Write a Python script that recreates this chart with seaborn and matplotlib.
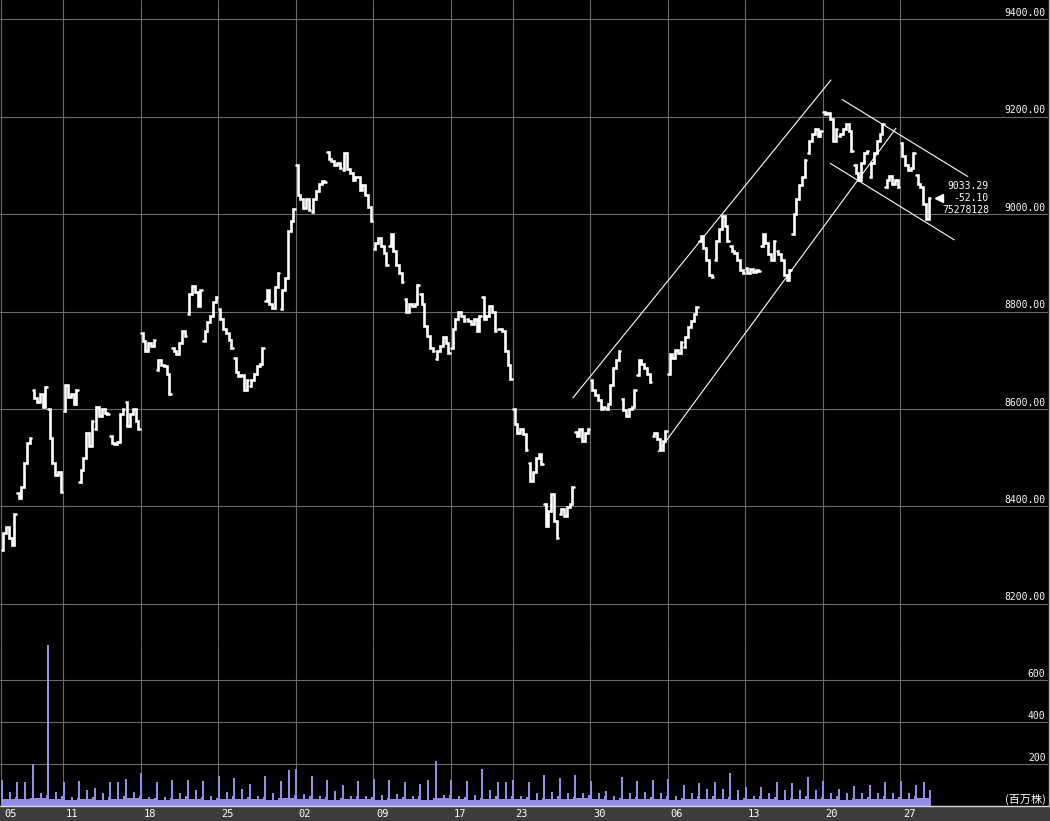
import matplotlib
matplotlib.use("Agg")
import numpy as np
import pandas as pd
import seaborn as sns
import matplotlib.pyplot as plt
from matplotlib.transforms import blended_transform_factory, offset_copy
from matplotlib.patches import Rectangle
from matplotlib.lines import Line2D

sns.set_theme(style="dark")
plt.rcParams['font.family'] = ['DejaVu Sans Mono', 'Noto Sans CJK JP']

# ---------------- data ----------------
# intraday price, 6 readings per trading day (60 days)
price = [
    8310, 8345, 8358, 8335, 8322, 8385,
    8428, 8418, 8440, 8490, 8530, 8540,
    8640, 8622, 8615, 8630, 8605, 8645,
    8600, 8540, 8490, 8465, 8470, 8430,
    8595, 8650, 8625, 8630, 8610, 8640,
    8450, 8475, 8500, 8550, 8525, 8575,
    8560, 8605, 8585, 8600, 8592, 8590,
    8545, 8530, 8528, 8532, 8590, 8600,
    8615, 8565, 8590, 8600, 8575, 8560,
    8755, 8740, 8720, 8735, 8730, 8742,
    8680, 8700, 8690, 8688, 8672, 8630,
    8725, 8720, 8712, 8735, 8760, 8750,
    8795, 8835, 8852, 8840, 8812, 8845,
    8740, 8760, 8778, 8790, 8820, 8830,
    8805, 8785, 8765, 8755, 8742, 8725,
    8705, 8675, 8668, 8670, 8640, 8660,
    8648, 8660, 8672, 8688, 8692, 8725,
    8822, 8845, 8815, 8808, 8850, 8878,
    8805, 8845, 8868, 8965, 8985, 9010,
    9100, 9040, 9030, 9012, 9030, 9008,
    9005, 9030, 9048, 9062, 9068, 9065,
    9128, 9112, 9108, 9100, 9105, 9095,
    9090, 9125, 9092, 9085, 9070, 9075,
    9075, 9050, 9060, 9040, 9015, 8985,
    8928, 8940, 8950, 8935, 8920, 8895,
    8935, 8960, 8925, 8895, 8880, 8860,
    8825, 8800, 8815, 8812, 8815, 8855,
    8835, 8815, 8770, 8750, 8725, 8718,
    8702, 8718, 8730, 8748, 8735, 8715,
    8725, 8765, 8785, 8800, 8790, 8780,
    8785, 8780, 8775, 8785, 8760, 8790,
    8830, 8785, 8790, 8812, 8800, 8760,
    8765, 8765, 8760, 8720, 8690, 8662,
    8600, 8570, 8550, 8558, 8548, 8515,
    8490, 8452, 8470, 8500, 8508, 8488,
    8405, 8360, 8390, 8425, 8370, 8335,
    8385, 8395, 8380, 8398, 8405, 8440,
    8552, 8545, 8558, 8535, 8550, 8560,
    8660, 8640, 8628, 8618, 8600, 8605,
    8600, 8610, 8650, 8685, 8700, 8720,
    8620, 8598, 8585, 8600, 8605, 8640,
    8670, 8700, 8692, 8685, 8672, 8655,
    8545, 8550, 8538, 8515, 8535, 8555,
    8672, 8712, 8705, 8722, 8715, 8738,
    8728, 8748, 8768, 8780, 8795, 8810,
    8945, 8955, 8930, 8905, 8875, 8870,
    8905, 8945, 8970, 8995, 8975, 8945,
    8935, 8925, 8920, 8905, 8885, 8880,
    8890, 8880, 8888, 8882, 8886, 8884,
    8935, 8960, 8940, 8918, 8905, 8945,
    8925, 8918, 8905, 8875, 8865, 8885,
    8960, 9000, 9030, 9060, 9075, 9110,
    9125, 9150, 9165, 9175, 9160, 9170,
    9210, 9205, 9208, 9195, 9150, 9175,
    9160, 9165, 9175, 9185, 9170, 9130,
    9100, 9085, 9070, 9105, 9125, 9130,
    9075, 9105, 9125, 9150, 9165, 9185,
    9055, 9070, 9078, 9062, 9070, 9055,
    9145, 9120, 9100, 9090, 9095, 9125,
    9080, 9062, 9055, 9020, 8990, 9033.29,
]

# volume (million shares): morning-open spike, afternoon-open spike, base levels per day
vol_am = [124, 116, 198, 767, 112, 121, 87, 112, 127, 159,
          116, 124, 124, 120, 143, 135, 105, 143, 120, 178,
          143, 124, 100, 121, 127, 124, 116, 105, 212, 124,
          121, 175, 112, 124, 116, 147, 132, 147, 121, 72,
          140, 121, 124, 127, 100, 108, 112, 156, 92, 92,
          112, 108, 140, 121, 80, 96, 100, 112, 121, 100]
vol_pm = [68, 112, 63, 68, 45, 76, 60, 116, 68, 45,
          45, 60, 76, 50, 68, 80, 50, 60, 171, 55,
          50, 72, 50, 50, 52, 56, 50, 124, 52, 48,
          52, 76, 112, 50, 60, 68, 60, 60, 60, 50,
          60, 68, 60, 50, 60, 80, 80, 76, 50, 64,
          76, 76, 76, 60, 60, 60, 64, 60, 64, 116]
vol_base = [34, 31, 36, 33, 28, 32, 30, 34, 36, 31,
            28, 33, 32, 30, 35, 33, 31, 29, 36, 34,
            32, 30, 33, 31, 28, 32, 34, 30, 36, 31,
            29, 33, 35, 32, 30, 34, 31, 36, 33, 29,
            32, 31, 34, 30, 33, 35, 32, 30, 34, 31,
            29, 33, 32, 35, 30, 31, 34, 32, 33, 36]
vol_close = [45, 40, 52, 48, 38, 44, 42, 50, 46, 40,
             38, 47, 44, 40, 50, 45, 42, 39, 52, 48,
             44, 40, 46, 42, 38, 44, 48, 40, 52, 42,
             40, 46, 50, 44, 40, 48, 42, 52, 46, 40,
             44, 42, 48, 40, 46, 50, 44, 40, 48, 42,
             40, 46, 44, 50, 40, 42, 48, 44, 46, 76]

tick_days = [0, 4, 9, 14, 19, 24, 29, 33, 38, 43, 48, 53, 58]
tick_labels = ['05', '11', '18', '25', '02', '09', '17', '23', '30', '06', '13', '20', '27']
price_ticks = [8200, 8400, 8600, 8800, 9000, 9200, 9400]
vol_ticks = [200, 400, 600]

# hand-drawn trend channels (day, price)
up_top_x, up_top_y = [36.9, 53.55], [8623, 9275]
up_bot_x, up_bot_y = [42.39, 57.74], [8512, 9176]
dn_top_x, dn_top_y = [54.26, 62.37], [9235, 9077]
dn_bot_x, dn_bot_y = [53.50, 61.50], [9104, 8947]

last_price = 9033.29
last_change = -52.10
last_volume = 75278128

# ---------------- layout ----------------
W, H = 1050, 821
PX_DAY = 15.5
P_PER_PX = 200 / 97.5
V_PER_PX = 200 / 42.0

fig = plt.figure(figsize=(W / 100, H / 100), dpi=100, facecolor='black')
x0 = -1 / PX_DAY
x1 = x0 + 1048 / PX_DAY

ax_p = fig.add_axes([0, (H - 640) / H, 1048 / W, 640 / H])
ax_v = fig.add_axes([0, (H - 806) / H, 1048 / W, 166 / H])

grid_col = '#6a6a6a'
for ax in (ax_p, ax_v):
    ax.set_facecolor('black')
    for s in ax.spines.values():
        s.set_visible(False)
    ax.set_axisbelow(True)

# price line, one segment per trading day, spanning the whole day slot
n_per = 6
n_days = len(price) // n_per
days = np.repeat(np.arange(n_days), n_per)
pos = np.tile(0.04 + np.arange(n_per) / (n_per - 1) * 0.92, n_days)
df = pd.DataFrame({'x': days + pos, 'price': price, 'day': days})
sns.lineplot(data=df, x='x', y='price', units='day', estimator=None, sort=False,
             color='white', linewidth=1.9, ax=ax_p, legend=False,
             drawstyle='steps-mid', solid_joinstyle='miter')

for xs, ys in [(up_top_x, up_top_y), (up_bot_x, up_bot_y),
               (dn_top_x, dn_top_y), (dn_bot_x, dn_bot_y)]:
    ax_p.plot(xs, ys, color='white', lw=0.8)

# volume bars, 8 slots per day
vx, vv = [], []
for d in range(len(vol_am)):
    slots = [vol_am[d], vol_base[d], vol_base[d], vol_base[d],
             vol_pm[d], vol_base[d], vol_base[d], vol_close[d]]
    for k, v in enumerate(slots):
        vx.append(d + (k + 0.5) / 8)
        vv.append(v)
ax_v.bar(vx, vv, width=0.126, color='#8f8fe8', linewidth=0)

for ax in (ax_p, ax_v):
    ax.set_xlim(x0, x1)
    ax.set_xticks(tick_days)
    ax.tick_params(length=0, labelbottom=False, labelleft=False)
    ax.grid(True, color=grid_col, lw=0.8)
    ax.set_xlabel('')
    ax.set_ylabel('')

ax_p.set_yticks(price_ticks)
ax_p.set_ylim(9400 - 621 * P_PER_PX, 9400 + 19 * P_PER_PX)
ax_v.set_yticks(vol_ticks)
ax_v.set_ylim(0, 166 * V_PER_PX)

# right-side axis labels
tp = offset_copy(blended_transform_factory(ax_p.transAxes, ax_p.transData), fig=fig, x=-2.5, y=1.5, units='dots')
for t in price_ticks:
    ax_p.text(1.0, t, f'{t:.2f}', transform=tp, ha='right', va='bottom', color='white', fontsize=7)
tv = offset_copy(blended_transform_factory(ax_v.transAxes, ax_v.transData), fig=fig, x=-2.5, y=1.5, units='dots')
for t in vol_ticks:
    ax_v.text(1.0, t, f'{t}', transform=tv, ha='right', va='bottom', color='white', fontsize=7)
ax_v.text(1.0, 0.04, '(百万株)', transform=offset_copy(ax_v.transAxes, fig=fig, x=-2.5, units='dots'),
          ha='right', va='center', color='white', fontsize=8,
          family=['Noto Sans CJK JP', 'DejaVu Sans'])

# last value annotation
ann_x = x0 + 989 / PX_DAY
tri_x = x0 + 938.5 / PX_DAY
for dy, s in [(12, f'{last_price:.2f}'), (0, f'{last_change:.2f}'), (-12, f'{last_volume}')]:
    ax_p.text(ann_x, last_price, s, transform=offset_copy(ax_p.transData, fig=fig, y=dy, units='dots'),
              ha='right', va='center', color='white', fontsize=7)
ax_p.plot([tri_x], [last_price], marker='<', color='white', markersize=6, linestyle='none')

# bottom date strip
fig.add_artist(Rectangle((0, 0), 1, 15 / H, transform=fig.transFigure, color='#3c3c3c', zorder=0))
fig.add_artist(Line2D([0, 1], [15 / H, 15 / H], transform=fig.transFigure, color='#d8d8d8', lw=1))
fig.add_artist(Line2D([1048.5 / W, 1048.5 / W], [15 / H, 1], transform=fig.transFigure, color='#b0b0b0', lw=1))
tx = offset_copy(blended_transform_factory(ax_v.transData, fig.transFigure), fig=fig, x=3, units='dots')
for d, lab in zip(tick_days, tick_labels):
    ax_v.text(d, 7 / H, lab, transform=tx, ha='left', va='center', color='white', fontsize=7.5, clip_on=False)

fig.savefig('out.png', dpi=100, facecolor='black')
